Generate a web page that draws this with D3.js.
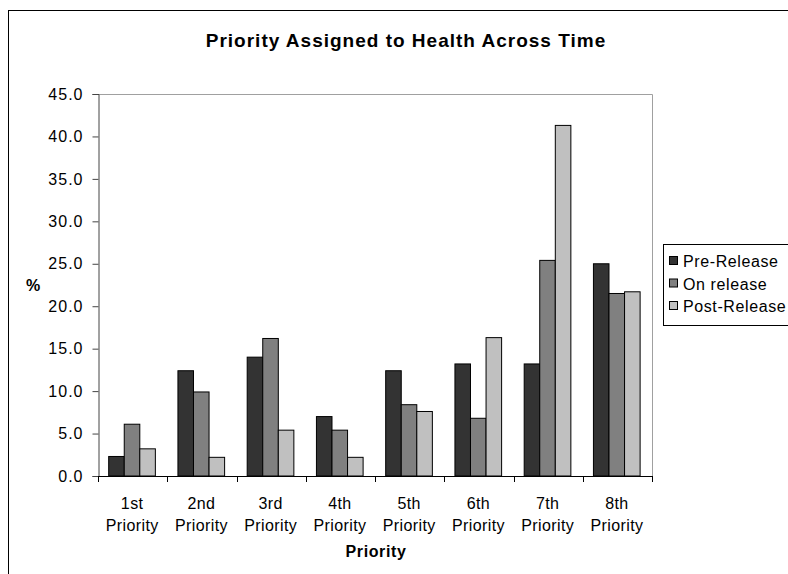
<!DOCTYPE html>
<html>
<head>
<meta charset="utf-8">
<script src="https://cdn.jsdelivr.net/npm/d3@7"></script>
<style>
  body { margin: 0; background: #fff; }
  svg { display: block; }
  text { font-family: "Liberation Sans", Arial, sans-serif; fill: #000; }
</style>
</head>
<body>
<svg id="chart" width="788" height="574"></svg>
<script>
// Share of respondents (%) giving health each priority rank, by survey wave
const categories = ["1st Priority", "2nd Priority", "3rd Priority", "4th Priority",
                    "5th Priority", "6th Priority", "7th Priority", "8th Priority"];
const seriesNames = ["Pre-Release", "On release", "Post-Release"];
const preRelease  = [2.3, 12.4, 14.0, 7.0, 12.4, 13.2, 13.2, 25.0];
const onRelease   = [6.1, 9.9, 16.2, 5.4, 8.4, 6.8, 25.4, 21.5];
const postRelease = [3.2, 2.2, 5.4, 2.2, 7.6, 16.3, 41.3, 21.7];
const yTicks = [0, 5, 10, 15, 20, 25, 30, 35, 40, 45];
const seriesColors = ["#333333", "#808080", "#c0c0c0"];

const seriesValues = [preRelease, onRelease, postRelease];
const rows = categories.map((c, i) => ({
  category: c,
  values: seriesNames.map((s, j) => ({ series: s, value: seriesValues[j][i] }))
}));

const svg = d3.select("#chart");
const plot = { left: 98, right: 652, top: 94, bottom: 476 };

// Outer chart frame (continues past the right and bottom edges)
svg.append("rect")
  .attr("x", 8.5).attr("y", 10.5).attr("width", 900).attr("height", 700)
  .attr("fill", "none").attr("stroke", "#000").attr("stroke-width", 1);

// Title
svg.append("text")
  .attr("x", 406).attr("y", 47)
  .attr("text-anchor", "middle")
  .style("font-size", "19px").style("font-weight", "bold")
  .style("letter-spacing", "1px")
  .text("Priority Assigned to Health Across Time");

// Grouped bars: three bars per category, gap between groups 1.45 bar widths
const x0 = d3.scaleBand()
  .domain(categories)
  .range([plot.left, plot.right])
  .paddingInner(0.326)
  .paddingOuter(0.163);

const x1 = d3.scaleBand()
  .domain(seriesNames)
  .range([0, x0.bandwidth()]);

const y = d3.scaleLinear().domain([0, 45]).range([plot.bottom, plot.top]);
const color = d3.scaleOrdinal().domain(seriesNames).range(seriesColors);

// Plot area frame: grey top and right edges
svg.append("path")
  .attr("d", `M${plot.left},${plot.top + 0.5}H${plot.right + 0.5}V${plot.bottom}`)
  .attr("fill", "none").attr("stroke", "#a0a0a0").attr("stroke-width", 1);

// Bars
svg.append("g")
  .selectAll("g")
  .data(rows)
  .join("g")
  .attr("transform", d => `translate(${x0(d.category) - 0.6},0)`)
  .selectAll("rect")
  .data(d => d.values)
  .join("rect")
  .attr("x", d => x1(d.series))
  .attr("y", d => y(d.value))
  .attr("width", x1.bandwidth())
  .attr("height", d => y(0) - y(d.value))
  .attr("fill", d => color(d.series))
  .attr("stroke", "#000")
  .attr("stroke-width", 1);

// Y axis
const yAxis = d3.axisLeft(y)
  .tickValues(yTicks)
  .tickFormat(d3.format(".1f"))
  .tickSize(6)
  .tickPadding(9);
const yg = svg.append("g")
  .attr("transform", `translate(${plot.left + 0.5},0)`)
  .call(yAxis);
yg.select(".domain").attr("stroke", "#444");
yg.selectAll(".tick line").attr("stroke", "#444");
yg.selectAll(".tick text")
  .style("font-size", "16px")
  .style("letter-spacing", "1px")
  .style("font-family", "\"Liberation Sans\", Arial, sans-serif")
  .attr("fill", "#000");

// X axis: line with tick marks at category boundaries
const step = x0.step();
const boundaries = d3.range(categories.length + 1).map(i => plot.left + i * step);
const xg = svg.append("g");
xg.append("line")
  .attr("x1", plot.left).attr("x2", plot.right + 0.5)
  .attr("y1", plot.bottom + 0.5).attr("y2", plot.bottom + 0.5)
  .attr("stroke", "#000");
xg.selectAll("line.tick")
  .data(boundaries)
  .join("line")
  .attr("class", "tick")
  .attr("x1", d => Math.round(d) + 0.5).attr("x2", d => Math.round(d) + 0.5)
  .attr("y1", plot.bottom).attr("y2", plot.bottom + 6)
  .attr("stroke", "#000");

// Category labels on two lines
xg.selectAll("text.cat")
  .data(categories)
  .join("text")
  .attr("class", "cat")
  .attr("text-anchor", "middle")
  .style("font-size", "16px")
  .style("letter-spacing", "0.4px")
  .attr("transform", d => `translate(${x0(d) + x0.bandwidth() / 2 - 0.5},0)`)
  .each(function (d) {
    const parts = d.split(" ");
    d3.select(this).selectAll("tspan")
      .data(parts)
      .join("tspan")
      .attr("x", 0)
      .attr("y", (p, i) => 509 + i * 22)
      .text(p => p);
  });

// Axis titles
svg.append("text")
  .attr("x", 376).attr("y", 557)
  .attr("text-anchor", "middle")
  .style("font-size", "16px").style("font-weight", "bold")
  .style("letter-spacing", "0.6px")
  .text("Priority");

svg.append("text")
  .attr("x", 33).attr("y", 291)
  .attr("text-anchor", "middle")
  .style("font-size", "16px").style("font-weight", "bold")
  .text("%");

// Legend
const legend = svg.append("g").attr("transform", "translate(663,0)");
legend.append("rect")
  .attr("x", 0.5).attr("y", 244.5).attr("width", 200).attr("height", 81)
  .attr("fill", "#fff").attr("stroke", "#000");
const item = legend.selectAll("g.item")
  .data(seriesNames)
  .join("g")
  .attr("class", "item")
  .attr("transform", (d, i) => `translate(0,${261 + i * 22.5})`);
item.append("rect")
  .attr("x", 6.5).attr("y", -4.5).attr("width", 8).attr("height", 8)
  .attr("fill", d => color(d)).attr("stroke", "#000");
item.append("text")
  .attr("x", 20).attr("y", 6)
  .style("font-size", "16px")
  .style("letter-spacing", "0.6px")
  .text(d => d);
</script>
</body>
</html>
